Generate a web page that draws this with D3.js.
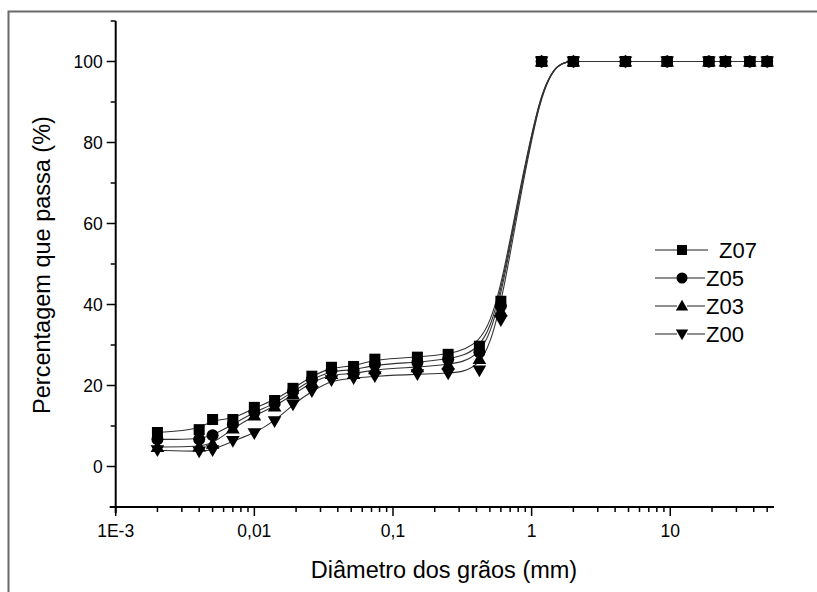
<!DOCTYPE html>
<html>
<head>
<meta charset="utf-8">
<script src="https://cdn.jsdelivr.net/npm/d3@7/dist/d3.min.js"></script>
<style>
  html, body { margin: 0; padding: 0; background: #fff; }
  svg { display: block; font-family: "Liberation Sans", Arial, sans-serif; }
</style>
</head>
<body>
<svg id="chart" width="817" height="592"></svg>
<script>
// Grain-size distribution (sieve + sedimentation), passing percentage per sample
const diameters = [0.002, 0.004, 0.005, 0.007, 0.01, 0.014, 0.019, 0.026, 0.036, 0.052, 0.074,
                   0.15, 0.25, 0.42, 0.6, 1.18, 2, 4.75, 9.5, 19, 25, 37.5, 50];

const seriesNames = ["Z07", "Z05", "Z03", "Z00"];
const z07 = [8.4, 9.1, 11.6, 11.6, 14.6, 16.3, 19.3, 22.3, 24.5, 24.7, 26.5, 27.0, 27.7, 29.7, 40.8,
             100, 100, 100, 100, 100, 100, 100, 100];
const z05 = [6.7, 6.7, 7.7, 10.4, 13.4, 15.5, 18.5, 21.5, 23.7, 23.7, 25.2, 25.7, 26.5, 28.2, 39.6,
             100, 100, 100, 100, 100, 100, 100, 100];
const z03 = [4.8, 4.9, 5.6, 9.4, 12.6, 14.8, 17.8, 20.8, 22.8, 22.8, 24.0, 24.5, 25.2, 26.5, 38.3,
             100, 100, 100, 100, 100, 100, 100, 100];
const z00 = [4.0, 3.7, 4.0, 6.3, 8.2, 11.2, 15.3, 18.6, 21.3, 21.8, 22.3, 22.8, 23.0, 23.7, 36.1,
             100, 100, 100, 100, 100, 100, 100, 100];
const markerTypes = ["square", "circle", "triangleUp", "triangleDown"];

const xTickValues = [0.001, 0.01, 0.1, 1, 10];
const xTickLabels = ["1E-3", "0,01", "0,1", "1", "10"];
const yTickValues = [0, 20, 40, 60, 80, 100];

const svg = d3.select("#chart");

// outer frame
svg.append("rect")
  .attr("x", 8.5).attr("y", 11.5)
  .attr("width", 900).attr("height", 700)
  .attr("fill", "none").attr("stroke", "#6a6a6a").attr("stroke-width", 2);

const plotLeft = 115.7, plotRight = 774, plotTop = 21, plotBottom = 507;

const x = d3.scaleLog().domain([0.001, 56]).range([plotLeft, plotRight]);
const y = d3.scaleLinear().domain([-10, 110]).range([plotBottom, plotTop]);

// y axis: major ticks every 20, minor every 10
const yAxis = svg.append("g").attr("transform", `translate(${plotLeft},0)`);
yAxis.append("line").attr("x1", 0).attr("x2", 0).attr("y1", plotTop).attr("y2", plotBottom + 6)
  .attr("stroke", "#000").attr("stroke-width", 2);
d3.range(-10, 111, 10).forEach(v => {
  const major = v % 20 === 0;
  yAxis.append("line")
    .attr("x1", major ? -9 : -5).attr("x2", 0)
    .attr("y1", y(v)).attr("y2", y(v))
    .attr("stroke", "#000").attr("stroke-width", 1.5);
});
yAxis.selectAll("text.tick").data(yTickValues).join("text")
  .attr("class", "tick")
  .attr("x", -13).attr("y", d => y(d)).attr("dy", "0.36em")
  .attr("text-anchor", "end").attr("font-size", 17.5).attr("fill", "#000")
  .text(d => d);

// x axis: decade ticks with log minor ticks
const xAxis = svg.append("g").attr("transform", `translate(0,${plotBottom})`);
xAxis.append("line").attr("x1", plotLeft - 6).attr("x2", plotRight).attr("y1", 0).attr("y2", 0)
  .attr("stroke", "#000").attr("stroke-width", 2);
const minorX = [];
for (let e = -3; e <= 1; e++) {
  for (let m = 1; m <= 9; m++) {
    const v = m * Math.pow(10, e);
    if (v <= 56) minorX.push({ v, major: m === 1 });
  }
}
minorX.forEach(t => {
  xAxis.append("line")
    .attr("x1", x(t.v)).attr("x2", x(t.v))
    .attr("y1", 0).attr("y2", t.major ? 9 : 5)
    .attr("stroke", "#000").attr("stroke-width", 1.5);
});
xAxis.selectAll("text.tick").data(xTickValues).join("text")
  .attr("class", "tick")
  .attr("x", d => x(d)).attr("y", 30)
  .attr("text-anchor", "middle").attr("font-size", 17.5).attr("fill", "#000")
  .text((d, i) => xTickLabels[i]);

// axis titles
svg.append("text")
  .attr("x", 444).attr("y", 578)
  .attr("text-anchor", "middle").attr("font-size", 23.5).attr("fill", "#000")
  .text("Diâmetro dos grãos (mm)");
svg.append("text")
  .attr("transform", `translate(50,265) rotate(-90)`)
  .attr("text-anchor", "middle").attr("font-size", 23.5).attr("fill", "#000")
  .text("Percentagem que passa (%)");

// marker drawing helper
function marker(sel, type, size) {
  const s = size;
  if (type === "square") {
    sel.append("rect").attr("x", -s / 2).attr("y", -s / 2).attr("width", s).attr("height", s).attr("fill", "#000");
  } else if (type === "circle") {
    sel.append("circle").attr("r", s / 2 + 0.5).attr("fill", "#000");
  } else if (type === "triangleUp") {
    sel.append("path").attr("d", `M0,${-s * 0.62}L${s * 0.62},${s * 0.45}L${-s * 0.62},${s * 0.45}Z`).attr("fill", "#000");
  } else {
    sel.append("path").attr("d", `M0,${s * 0.62}L${s * 0.62},${-s * 0.45}L${-s * 0.62},${-s * 0.45}Z`).attr("fill", "#000");
  }
}

const allSeries = [z07, z05, z03, z00];
const line = d3.line()
  .x((d, i) => x(diameters[i]))
  .y(d => y(d))
  .curve(d3.curveBasis);

const plot = svg.append("g");
allSeries.forEach(vals => {
  plot.append("path")
    .attr("d", line(vals))
    .attr("fill", "none").attr("stroke", "#333").attr("stroke-width", 1.1);
});
allSeries.forEach((vals, si) => {
  vals.forEach((v, i) => {
    const g = plot.append("g").attr("transform", `translate(${x(diameters[i])},${y(v)})`);
    marker(g, markerTypes[si], 11);
  });
});

// legend
const legendRows = [250, 278, 306, 334];
const legendTextX = [719, 706, 706, 706];
seriesNames.forEach((name, i) => {
  const ly = legendRows[i];
  const g = svg.append("g");
  g.append("line").attr("x1", 655).attr("x2", 677).attr("y1", ly).attr("y2", ly)
    .attr("stroke", "#333").attr("stroke-width", 1.1);
  g.append("line").attr("x1", 687).attr("x2", i === 0 ? 708 : 705).attr("y1", ly).attr("y2", ly)
    .attr("stroke", "#333").attr("stroke-width", 1.1);
  const m = g.append("g").attr("transform", `translate(682,${ly})`);
  marker(m, markerTypes[i], 10);
  g.append("text").attr("x", legendTextX[i]).attr("y", ly).attr("dy", "0.36em")
    .attr("font-size", 22).attr("fill", "#000").text(name);
});
</script>
</body>
</html>
